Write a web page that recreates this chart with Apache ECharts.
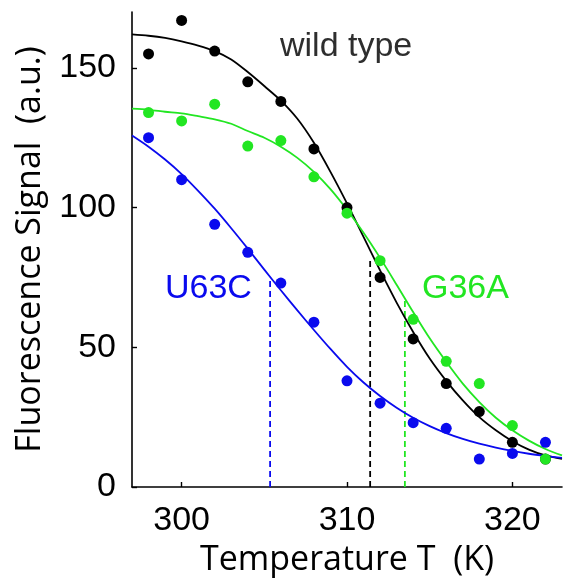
<!DOCTYPE html>
<html>
<head>
<meta charset="utf-8">
<title>Thermal melting curves</title>
<script src="https://cdn.jsdelivr.net/npm/echarts@6/dist/echarts.min.js"></script>
<style>
  html, body { margin: 0; padding: 0; background: #fff; }
  #chart { width: 565px; height: 583px; }
</style>
</head>
<body>
<div id="chart"></div>
<script>
// Measured temperatures (K) and fluorescence readings (a.u.)
const temps = [298, 300, 302, 304, 306, 308, 310, 312, 314, 316, 318, 320, 322];
const wildType = [155, 167, 156, 145, 138, 121, 100, 75, 53, 37, 27, 16, 10];
const g36a     = [134, 131, 137, 122, 124, 111, 98, 81, 60, 45, 37, 22, 10];
const u63c     = [125, 110, 94, 84, 73, 59, 38, 30, 23, 21, 10, 12, 16];

// Fitted melting curves, one value per kelvin
const fitTemps = [297, 298, 299, 300, 301, 302, 303, 304, 305, 306, 307, 308, 309, 310,
                  311, 312, 313, 314, 315, 316, 317, 318, 319, 320, 321, 322, 323];
const fitWild = [162, 161.5, 160.7, 159.5, 158, 156, 153, 148.5, 143.5, 138.3, 131.8, 123.2, 112.8, 101.5,
                 89.5, 77.5, 66, 55.5, 46, 38, 31, 25, 20.3, 16.4, 13.4, 11.3, 10.1];
const fitG36a = [135.4, 135, 134.3, 133.7, 132.7, 131.6, 130, 127.4, 125, 121.8, 117.8, 112.8, 106.6, 99.2,
                 91, 82, 72.4, 62.6, 53.2, 44.8, 37, 30.4, 24.8, 20.3, 16.6, 13.6, 11.3];
const fitU63c = [125.8, 121.8, 117.2, 112, 106, 99.6, 92.6, 85.3, 77.8, 70.4, 63.2, 56.2, 49.4, 43,
                 37.4, 32.6, 28.4, 24.8, 21.8, 19.3, 17.2, 15.5, 14.1, 12.9, 11.9, 11.1, 10.4];

// Melting temperatures and the signal level at each midpoint
const meltTemps  = [311.4, 313.5, 305.35];
const meltLevels = [82, 68, 75];

// Axis ticks
const xTicks = [300, 310, 320];
const yTicks = [0, 50, 100, 150];

const BLACK = '#000000';
const GREEN = '#22e622';
const BLUE  = '#0a0aee';

const zip = (xs, ys) => xs.map((x, i) => [x, ys[i]]);

function fitSeries(name, values, color) {
  return {
    name: name, type: 'line', data: zip(fitTemps, values),
    smooth: 0.3, showSymbol: false, silent: true,
    lineStyle: { color: color, width: 1.8 }, z: 2
  };
}
function pointSeries(name, values, color) {
  return {
    name: name, type: 'scatter', data: zip(temps, values),
    symbol: 'circle', symbolSize: 11,
    itemStyle: { color: color, opacity: 1 }, z: 4
  };
}
function meltSeries(idx, color) {
  return {
    type: 'line', silent: true, showSymbol: false,
    data: [[meltTemps[idx], 0], [meltTemps[idx], meltLevels[idx]]],
    lineStyle: { color: color, width: 1.8, type: [6, 4] }, z: 1
  };
}

const tickFont = { fontFamily: '"Liberation Sans", Arial, sans-serif', fontSize: 34, color: '#000' };
const nameFont = { fontFamily: '"Open Sans", sans-serif', fontSize: 34, color: '#000' };

const chart = echarts.init(document.getElementById('chart'), null, { renderer: 'canvas' });
chart.setOption({
  animation: false,
  backgroundColor: '#ffffff',
  grid: { left: 132, right: 3, top: 12, bottom: 96 },
  xAxis: {
    type: 'value', min: 297, max: 323,
    name: 'Temperature T  (K)', nameLocation: 'middle', nameGap: 55,
    nameTextStyle: nameFont,
    axisLine: { show: true, onZero: false, lineStyle: { color: '#000', width: 1.6 } },
    axisTick: { show: true, inside: true, length: 5, customValues: xTicks, lineStyle: { color: '#000', width: 1.4 } },
    axisLabel: Object.assign({ margin: 17, customValues: xTicks }, tickFont),
    splitLine: { show: false }
  },
  yAxis: {
    type: 'value', min: 0, max: 170,
    name: 'Fluorescence Signal  (a.u.)', nameLocation: 'middle', nameGap: 85,
    nameTextStyle: nameFont,
    axisLine: { show: true, lineStyle: { color: '#000', width: 1.6 } },
    axisTick: { show: true, inside: true, length: 5, customValues: yTicks, lineStyle: { color: '#000', width: 1.4 } },
    axisLabel: Object.assign({ margin: 16, customValues: yTicks }, tickFont),
    splitLine: { show: false }
  },
  series: [
    meltSeries(0, BLACK),
    meltSeries(1, GREEN),
    meltSeries(2, BLUE),
    fitSeries('wild type fit', fitWild, BLACK),
    fitSeries('U63C fit', fitU63c, BLUE),
    fitSeries('G36A fit', fitG36a, GREEN),
    pointSeries('wild type', wildType, BLACK),
    pointSeries('U63C', u63c, BLUE),
    pointSeries('G36A', g36a, GREEN)
  ],
  graphic: [
    { type: 'text', x: 280, y: 47, style: { text: 'wild type', fill: '#2e2e2e', fontSize: 34,
      fontFamily: '"Liberation Sans", Arial, sans-serif', align: 'left', verticalAlign: 'middle' } },
    { type: 'text', x: 165, y: 289, style: { text: 'U63C', fill: BLUE, fontSize: 34,
      fontFamily: '"Liberation Sans", Arial, sans-serif', align: 'left', verticalAlign: 'middle' } },
    { type: 'text', x: 422, y: 289, style: { text: 'G36A', fill: GREEN, fontSize: 34,
      fontFamily: '"Liberation Sans", Arial, sans-serif', align: 'left', verticalAlign: 'middle' } }
  ]
});
</script>
</body>
</html>
